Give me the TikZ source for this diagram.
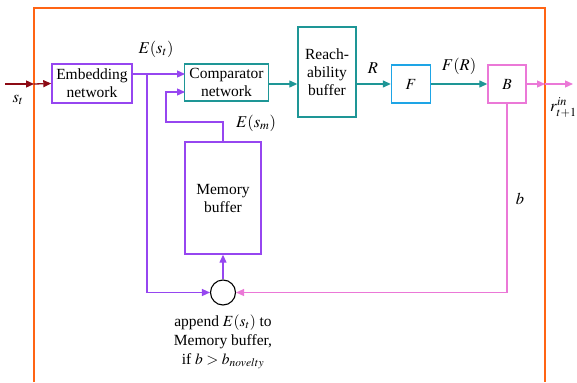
\documentclass[tikz,border=0pt]{standalone}
\usepackage{mathptmx}
\usepackage{fontspec}
\setmainfont{Liberation Serif}
\usetikzlibrary{arrows.meta}
\definecolor{cpurple}{RGB}{150,70,240}
\definecolor{cteal}{RGB}{30,150,150}
\definecolor{cblue}{RGB}{30,165,230}
\definecolor{cpink}{RGB}{235,120,215}
\definecolor{cdred}{RGB}{140,10,20}
\definecolor{corange}{RGB}{255,100,20}
\tikzset{
  blk/.style={line width=1.4pt, fill=white, align=center, inner sep=1pt,
    font=\fontsize{15.5}{18}\selectfont},
  conn/.style={line width=1.3pt, -{Triangle[length=8pt,width=7pt]}},
  lbl/.style={font=\fontsize{16.5}{18}\selectfont, inner sep=0pt},
}
\begin{document}
\begin{tikzpicture}[x=1pt,y=-1pt]
\useasboundingbox (0,0) rectangle (577,382);
% frame
\draw[corange, line width=2pt] (34,382) -- (34,8) -- (545,8) -- (545,382);

% blocks
\node[blk, draw=cpurple, minimum width=80pt, minimum height=39pt] (emb) at (92,83.5) {Embedding\\network};
\node[blk, draw=cteal, minimum width=84pt, minimum height=37pt] (comp) at (226.5,82.5) {Comparator\\network};
\node[blk, draw=cteal, minimum width=58pt, minimum height=90pt] (reach) at (327,72) {Reach-\\ability\\buffer};
\node[blk, draw=cblue, minimum width=39pt, minimum height=38pt] (F) at (411,84) {$F$};
\node[blk, draw=cpink, minimum width=38pt, minimum height=38pt] (B) at (507,84) {$B$};
\node[blk, draw=cpurple, minimum width=76pt, minimum height=112pt] (mem) at (223,198) {Memory\\buffer};
\node[draw, circle, line width=1.1pt, minimum size=25pt, inner sep=0pt] (circ) at (223,292.5) {};

% coordinates
\coordinate (in) at (5,84);
\coordinate (inx) at (34,84);
\coordinate (outx) at (545,84);
\coordinate (out) at (573,84);
\coordinate (e1) at (132,74);
\coordinate (c1) at (185,74);
\coordinate (br) at (147,74);
\coordinate (bb) at (147,292.5);
\coordinate (m1) at (223,122);
\coordinate (m2) at (166,122);
\coordinate (m3) at (166,92);
\coordinate (c2) at (185,92);
\coordinate (bd) at (507,292.5);

% input
\draw[conn, cdred] (in) -- (inx);
\draw[conn, cdred] (inx) -- (emb.west);
\node[lbl] (st) at (18,100) {$s_t$};

% embedding to comparator
\draw[conn, cpurple] (e1) -- (c1);
\draw[conn, cpurple] (br) -- (bb) -- (circ.west);
\node[lbl] (est) at (156,49) {$E(s_t)$};

% memory to comparator
\draw[conn, cpurple] (mem.north) -- (m1) -- (m2) -- (m3) -- (c2);
\node[lbl] (esm) at (256,123) {$E(s_m)$};

% circle to memory
\draw[conn, cpurple] (circ.north) -- (mem.south);

% comparator -> reach -> F -> B
\draw[conn, cteal] (comp.east |- 0,84) -- (reach.west |- 0,84);
\draw[conn, cteal] (reach.east |- 0,84) -- (F.west);
\node[lbl] (R) at (373,68) {$R$};
\draw[conn, cteal] (F.east) -- (B.west);
\node[lbl] (FR) at (459,66) {$F(R)$};

% output
\draw[conn, cpink] (B.east) -- (outx);
\draw[conn, cpink] (outx) -- (out);
\node[lbl, anchor=west] (rin) at (550,108) {$r^{in}_{t+1}$};

% feedback b
\draw[conn, cpink] (B.south) -- (bd) -- (circ.east);
\node[lbl] (b) at (520,199) {$b$};

% caption
\node[align=center, font=\fontsize{15.5}{19}\selectfont, inner sep=0pt] (cap) at (223,342)
  {append $E(s_t)$ to\\Memory buffer,\\if $b>b_{novelty}$};
\end{tikzpicture}
\end{document}
